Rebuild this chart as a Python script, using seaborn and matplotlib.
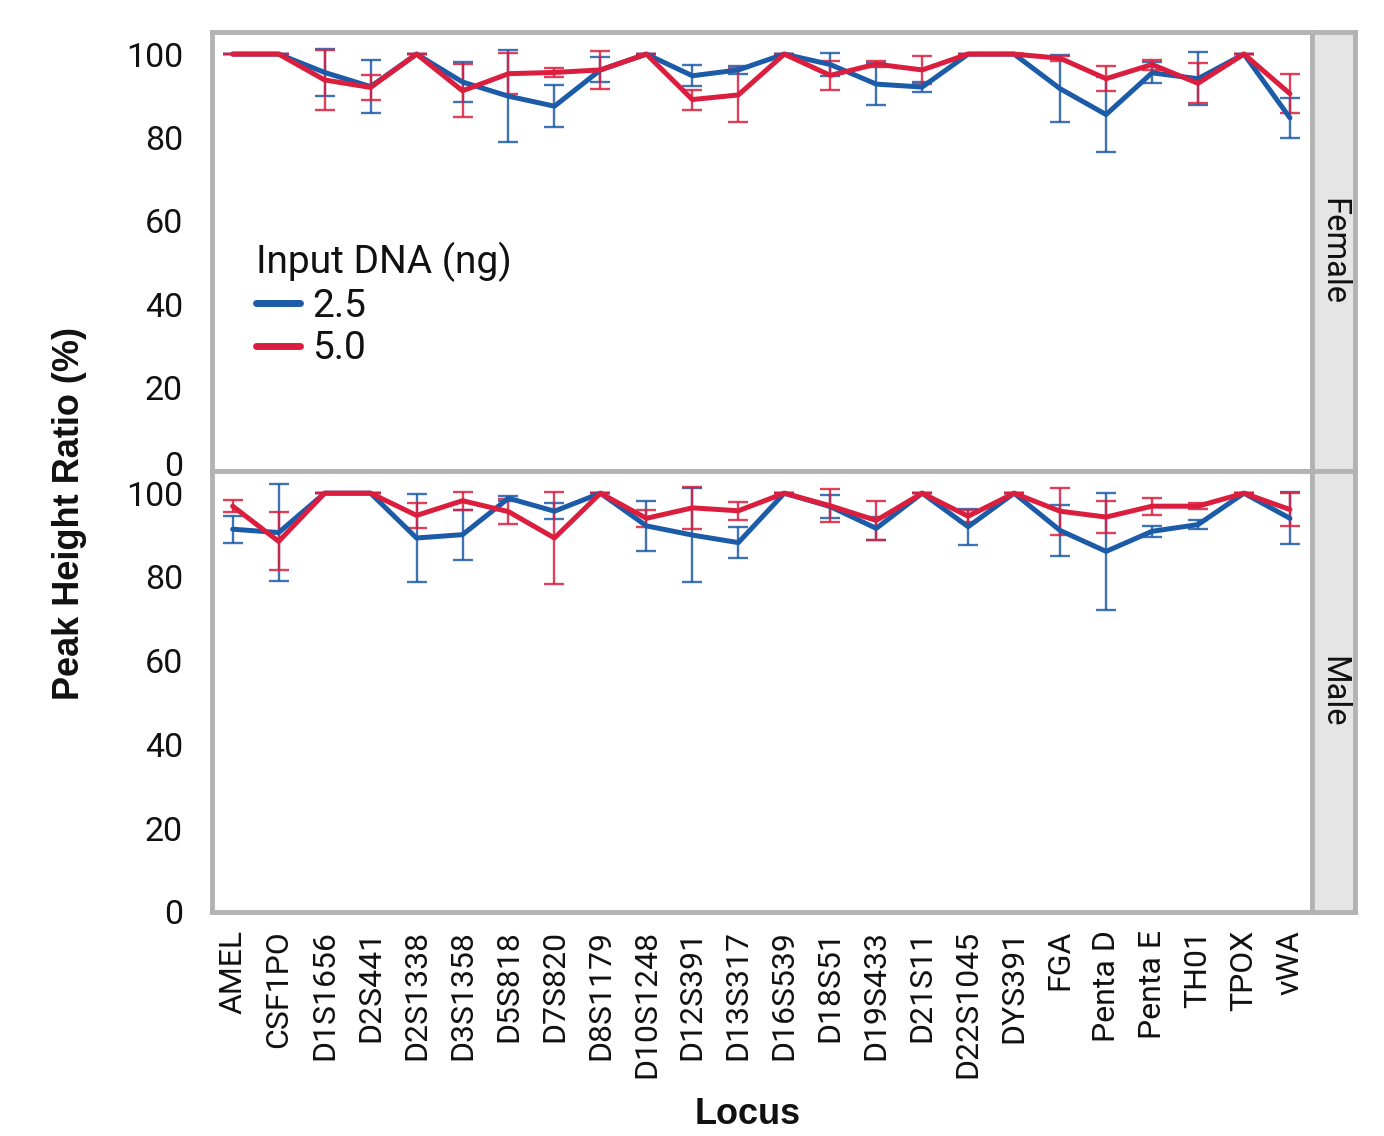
import numpy as np
import pandas as pd
import seaborn as sns
import matplotlib.pyplot as plt
from matplotlib.transforms import ScaledTranslation

# Loci on the x axis
loci = ['AMEL', 'CSF1PO', 'D1S1656', 'D2S441', 'D2S1338', 'D3S1358', 'D5S818',
        'D7S820', 'D8S1179', 'D10S1248', 'D12S391', 'D13S317', 'D16S539',
        'D18S51', 'D19S433', 'D21S11', 'D22S1045', 'DYS391', 'FGA',
        'Penta D', 'Penta E', 'TH01', 'TPOX', 'vWA']

# Female, 2.5 ng
fem_25 = [100, 100, 95.6, 92.2, 100, 93.3, 89.9, 87.5, 96.2, 100, 94.8, 96.2,
          100, 97.5, 92.8, 92.1, 100, 100, 91.7, 85.5, 95.5, 94.1, 100, 84.7]
fem_25_err = [0, 0, 5.6, 6.4, 0, 4.9, 11.1, 5.1, 3.0, 0, 2.5, 1.0,
              0, 2.7, 5.1, 1.2, 0, 0, 8.1, 9.1, 2.5, 6.4, 0, 4.8]
# Female, 5.0 ng
fem_50 = [100, 100, 93.8, 92.0, 100, 91.2, 95.3, 95.6, 96.2, 100, 89.1, 90.2,
          100, 94.9, 97.6, 96.2, 100, 100, 99.0, 94.1, 97.5, 93.0, 100, 90.5]
fem_50_err = [0, 0, 7.2, 3.0, 0, 6.4, 4.9, 1.1, 4.5, 0, 2.4, 6.4,
              0, 3.4, 0.8, 3.4, 0, 0, 0.6, 3.0, 1.2, 4.8, 0, 4.7]
# Male, 2.5 ng
male_25 = [91.4, 90.6, 100, 100, 89.3, 90.1, 98.8, 95.7, 100, 92.2, 90.0, 88.2,
           100, 96.8, 91.6, 100, 92.0, 100, 91.1, 86.1, 90.9, 92.5, 100, 94.0]
male_25_err = [3.2, 11.6, 0, 0, 10.5, 6.0, 0.6, 1.9, 0, 6.0, 11.3, 3.7,
               0, 2.7, 2.7, 0, 4.3, 0, 6.0, 14.0, 1.3, 1.0, 0, 6.2]
# Male, 5.0 ng
male_50 = [96.9, 88.5, 100, 100, 94.7, 98.2, 95.6, 89.3, 100, 94.0, 96.5, 95.8,
           100, 97.0, 93.5, 100, 94.5, 100, 95.7, 94.3, 96.9, 96.9, 100, 96.1]
male_50_err = [1.5, 6.9, 0, 0, 3.0, 2.2, 3.0, 11.0, 0, 2.0, 5.0, 2.2,
               0, 3.9, 4.7, 0, 1.4, 0, 5.6, 3.9, 2.0, 0.7, 0, 3.9]

inputs = ['2.5', '5.0']
colors = {'2.5': '#1c5ba8', '5.0': '#dc1e3e'}
grey = '#b3b3b3'
ink = '#111111'

rows = []
for sex, series in [('Female', [(fem_25, fem_25_err), (fem_50, fem_50_err)]),
                    ('Male', [(male_25, male_25_err), (male_50, male_50_err)])]:
    for inp, (vals, errs) in zip(inputs, series):
        for i, (v, e) in enumerate(zip(vals, errs)):
            rows.append({'Sex': sex, 'Input DNA (ng)': inp, 'pos': i,
                         'Locus': loci[i], 'Ratio': v, 'Err': e})
df = pd.DataFrame(rows)

sns.set_theme(style='white')
plt.rcParams['font.family'] = ['Roboto', 'DejaVu Sans']

fig = plt.figure(figsize=(13.84, 11.36), dpi=100)
W, H = 1384, 1136
ax_top = fig.add_axes([212 / W, 1 - 471 / H, 1100 / W, 439 / H])
ax_bot = fig.add_axes([212 / W, 1 - 912 / H, 1100 / W, 441 / H], sharex=ax_top)

for ax, sex in [(ax_top, 'Female'), (ax_bot, 'Male')]:
    sub = df[df['Sex'] == sex]
    for inp in inputs:
        s = sub[sub['Input DNA (ng)'] == inp]
        ax.errorbar(s['pos'], s['Ratio'], yerr=s['Err'], fmt='none',
                    ecolor=colors[inp], elinewidth=1.7, capsize=7.5,
                    capthick=1.7, alpha=0.85, zorder=2)
    sns.lineplot(data=sub, x='pos', y='Ratio', hue='Input DNA (ng)',
                 hue_order=inputs, palette=colors, linewidth=3.6,
                 errorbar=None, legend=(sex == 'Female'), ax=ax, zorder=3)
    ax.set_ylim(0, 105.3)
    ax.set_xlim(-0.45, len(loci) - 0.52)
    ax.set_yticks([0, 20, 40, 60, 80, 100])
    ax.set_xlabel('')
    ax.set_ylabel('')
    for sp in ax.spines.values():
        sp.set_color(grey)
        sp.set_linewidth(3.5)
    ax.tick_params(axis='y', colors=grey, width=3, length=8, pad=13,
                   labelsize=24.5, labelcolor=ink)

# nudge the top panel's "0" up so it clears the lower panel's "100"
lab0 = ax_top.get_yticklabels()[0]
lab0.set_transform(lab0.get_transform() + ScaledTranslation(0, 8 / 100, fig.dpi_scale_trans))

ax_top.tick_params(axis='x', length=0, labelbottom=False)
ax_bot.set_xticks(range(len(loci)))
ax_bot.set_xticklabels(loci, rotation=90, va='top', ha='center')
ax_bot.tick_params(axis='x', length=0, pad=13, labelsize=23, labelcolor=ink)

sns.move_legend(ax_top, loc='upper left', bbox_to_anchor=(0.022, 0.567),
                frameon=False, fontsize=28, title_fontsize=28,
                handlelength=1.15, handletextpad=0.3, labelspacing=0.15,
                borderpad=0, alignment='left', labelcolor=ink)
ax_top.get_legend().get_title().set_color(ink)
for h in ax_top.get_legend().legend_handles:
    h.set_linewidth(5)

# strips on the right
for y0, y1, label in [(32, 471, 'Female'), (471, 912, 'Male')]:
    st = fig.add_axes([1312 / W, 1 - y1 / H, 43 / W, (y1 - y0) / H])
    st.set_facecolor('#e5e5e5')
    st.set_xticks([])
    st.set_yticks([])
    for sp in st.spines.values():
        sp.set_color(grey)
        sp.set_linewidth(3.5)
    st.text(0.5, 0.5, label, rotation=270, ha='center', va='center',
            fontsize=23.5, color=ink, transform=st.transAxes)

fig.text(70 / W, 1 - 513 / H, 'Peak Height Ratio (%)', rotation=90,
         ha='center', va='center', fontsize=26, fontweight='bold',
         family='Liberation Sans', color=ink)
fig.text(748 / W, 1 - 1114 / H, 'Locus', ha='center', va='center',
         fontsize=26, fontweight='bold', family='Liberation Sans', color=ink)

fig.savefig('out.png', dpi=100)
